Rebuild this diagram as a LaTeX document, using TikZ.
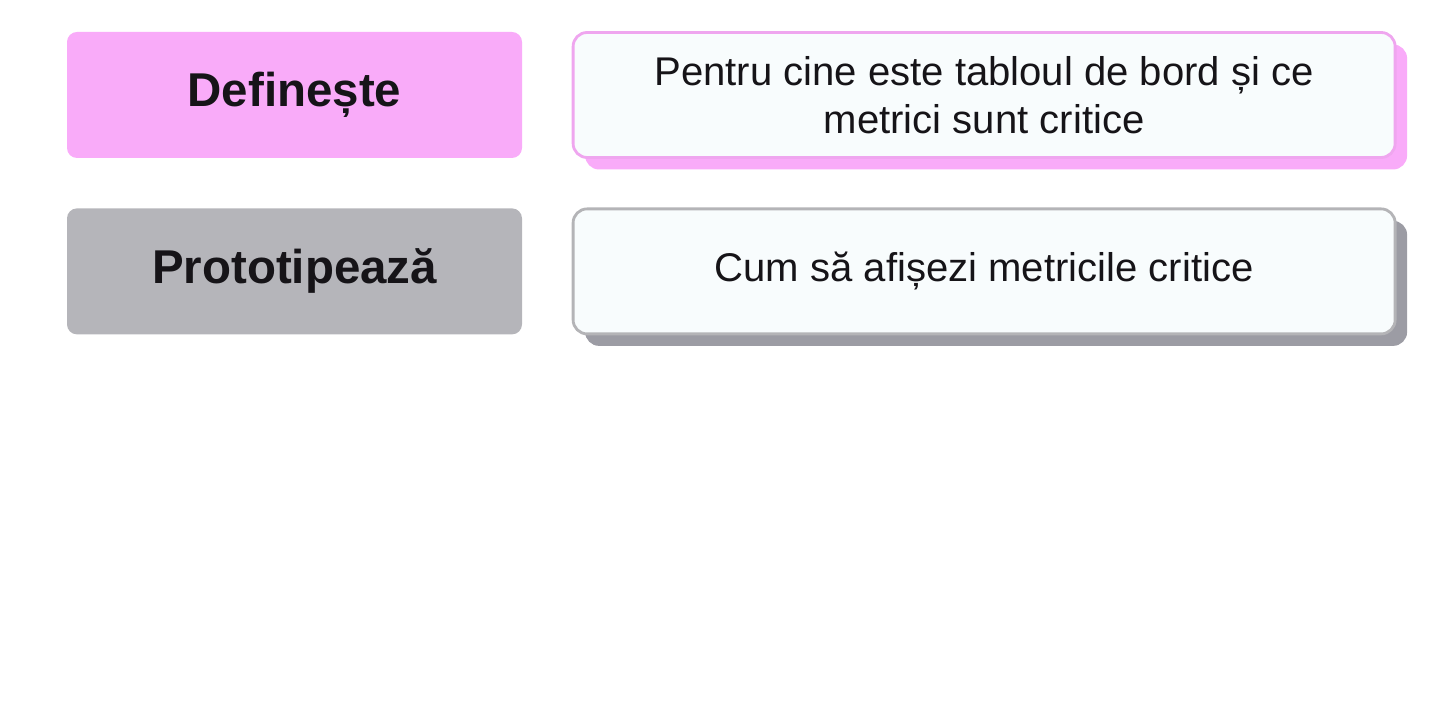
\documentclass[tikz,border=0pt]{standalone}
\usepackage{fontspec}
\setmainfont{Liberation Sans}
\usetikzlibrary{positioning,shadows}
\definecolor{stagepink}{HTML}{F9ABF9}
\definecolor{edgepink}{HTML}{EFA6EF}
\definecolor{stagegray}{HTML}{B5B5BA}
\definecolor{edgegray}{HTML}{B4B4B7}
\definecolor{shadegray}{HTML}{9C9CA4}
\definecolor{descfill}{HTML}{F8FCFD}
\definecolor{inktext}{HTML}{161418}
\begin{document}
\begin{tikzpicture}[node distance={4.9mm},
    stage/.style = {rounded corners=1mm, minimum width=4.55cm, minimum height=1.26cm, inner sep=0pt,
      text=inktext, font=\fontsize{13.5}{16}\selectfont\bfseries},
    desc/.style = {rounded corners=1.4mm, line width=0.8pt, fill=descfill, minimum width=8.22cm,
      minimum height=1.25cm, inner sep=0pt, align=center, text=inktext, font=\fontsize{11.4}{13.7}\selectfont},
    lift/.style = {drop shadow={shadow xshift=1.2mm, shadow yshift=-1.2mm, fill=#1, opacity=1}}]
    \useasboundingbox (0,0) rectangle (14.46,7.2);
    \node[stage, fill=stagepink] (define) at (2.945,6.25) {Definește};
    \node[desc, draw=edgepink, lift=stagepink] (definetext) [right=of define] {Pentru cine este tabloul de bord și ce\\metrici sunt critice};
    \node[stage, fill=stagegray] (proto) [below=of define] {Prototipează};
    \node[desc, draw=edgegray, lift=shadegray] (prototext) [right=of proto] {Cum să afișezi metricile critice};
  \end{tikzpicture}
\end{document}
